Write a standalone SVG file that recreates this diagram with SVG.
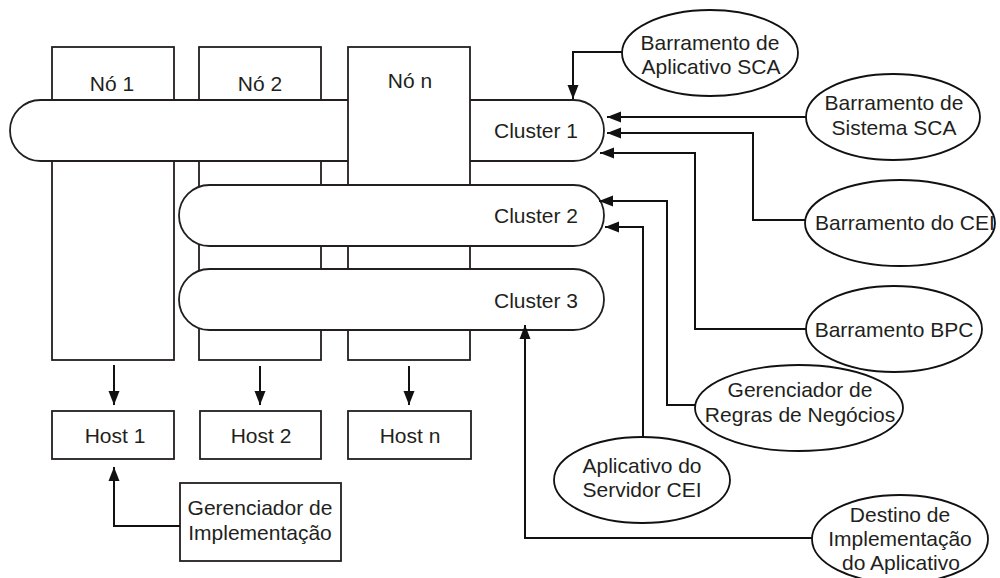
<svg xmlns="http://www.w3.org/2000/svg" width="1000" height="578" viewBox="0 0 1000 578">
  <style>
    text { font-family: "Liberation Sans", Arial, Helvetica, sans-serif; font-size: 21px; fill: #231f20; text-anchor: middle; }
    .box { fill: #ffffff; stroke: #231f20; stroke-width: 1.8; }
    .oval { fill: #ffffff; stroke: #111111; stroke-width: 1.8; }
    .link { fill: none; stroke: #111111; stroke-width: 2; marker-end: url(#arrow); }
  </style>
  <defs>
    <marker id="arrow" markerUnits="userSpaceOnUse" markerWidth="14" markerHeight="12" refX="14" refY="6" orient="auto">
      <path d="M0,0.5 L14,6 L0,11.5 z" fill="#111111"/>
    </marker>
  </defs>
  <rect width="1000" height="578" fill="#ffffff"/>

  <!-- node columns 1 and 2 sit behind the first cluster -->
  <g id="node-1">
    <rect class="box" x="52" y="47" width="122" height="313"/>
    <text x="112" y="91">Nó 1</text>
  </g>
  <g id="node-2">
    <rect class="box" x="199" y="47" width="122" height="313"/>
    <text x="260" y="91">Nó 2</text>
  </g>

  <g id="cluster-1">
    <rect class="box" x="10" y="100" width="594" height="61" rx="30.5" ry="30.5"/>
    <text x="536" y="138">Cluster 1</text>
  </g>

  <!-- node n covers cluster 1 but lies under clusters 2 and 3 -->
  <g id="node-n">
    <rect class="box" x="348" y="47" width="122" height="313"/>
    <text x="410" y="88">Nó n</text>
  </g>

  <g id="cluster-2">
    <rect class="box" x="179" y="185" width="425" height="61" rx="30.5" ry="30.5"/>
    <text x="536" y="223">Cluster 2</text>
  </g>
  <g id="cluster-3">
    <rect class="box" x="179" y="269" width="425" height="61" rx="30.5" ry="30.5"/>
    <text x="536" y="308">Cluster 3</text>
  </g>

  <g id="host-1">
    <rect class="box" x="52" y="411" width="122" height="48"/>
    <text x="115" y="443">Host 1</text>
  </g>
  <g id="host-2">
    <rect class="box" x="200" y="411" width="121" height="48"/>
    <text x="261" y="443">Host 2</text>
  </g>
  <g id="host-n">
    <rect class="box" x="348" y="411" width="123" height="48"/>
    <text x="410" y="443">Host n</text>
  </g>

  <g id="deployment-manager">
    <rect class="box" x="180" y="483" width="161" height="78"/>
    <text x="260" y="515">Gerenciador de</text>
    <text x="260" y="540">Implementação</text>
  </g>

  <g id="sca-application-bus">
    <ellipse class="oval" cx="710" cy="53" rx="88" ry="43"/>
    <text x="710" y="50">Barramento de</text>
    <text x="711" y="74">Aplicativo SCA</text>
  </g>
  <g id="sca-system-bus">
    <ellipse class="oval" cx="893" cy="117" rx="87" ry="43"/>
    <text x="894" y="110">Barramento de</text>
    <text x="894" y="135">Sistema SCA</text>
  </g>
  <g id="cei-bus">
    <ellipse class="oval" cx="900" cy="223" rx="95" ry="43"/>
    <text x="905" y="230">Barramento do CEI</text>
  </g>
  <g id="bpc-bus">
    <ellipse class="oval" cx="894" cy="329" rx="88" ry="43"/>
    <text x="894" y="337">Barramento BPC</text>
  </g>
  <g id="business-rules-manager">
    <ellipse class="oval" cx="799" cy="408" rx="104" ry="43"/>
    <text x="800" y="397">Gerenciador de</text>
    <text x="800" y="422">Regras de Negócios</text>
  </g>
  <g id="cei-server-application">
    <ellipse class="oval" cx="642" cy="480" rx="88" ry="43"/>
    <text x="642" y="473">Aplicativo do</text>
    <text x="642" y="497">Servidor CEI</text>
  </g>
  <g id="application-deployment-target">
    <ellipse class="oval" cx="900" cy="539" rx="88" ry="44"/>
    <text x="900" y="522">Destino de</text>
    <text x="900" y="546">Implementação</text>
    <text x="901" y="570">do Aplicativo</text>
  </g>

  <g id="connectors">
    <path class="link" d="M622,52 H573 V99"/>
    <path class="link" d="M806,117 H607"/>
    <path class="link" d="M805,220 H753 V133 H607"/>
    <path class="link" d="M806,329 H695 V153 H600"/>
    <path class="link" d="M695,405 H667 V201 H599"/>
    <path class="link" d="M643,437 V227 H605"/>
    <path class="link" d="M812,538 H525 V325"/>
    <path class="link" d="M180,526 H114 V467"/>
    <path class="link" d="M114,365 V405"/>
    <path class="link" d="M260,366 V405"/>
    <path class="link" d="M409,366 V405"/>
  </g>
</svg>
